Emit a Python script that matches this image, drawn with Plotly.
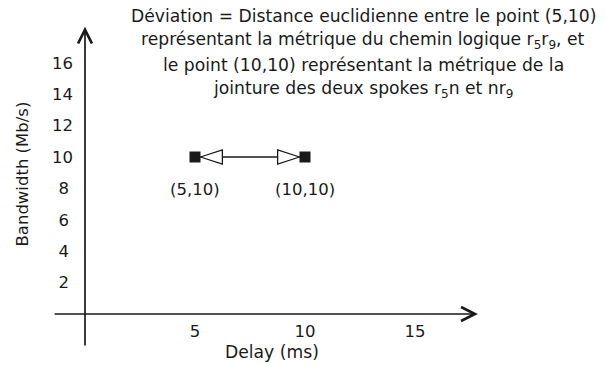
import plotly.graph_objects as go

# ---- data ----
delay = [5, 10]            # ms
bandwidth = [10, 10]       # Mb/s
x_ticks = [5, 10, 15]
y_ticks = [2, 4, 6, 8, 10, 12, 14, 16]
x_title = "Delay (ms)"
y_title = "Bandwidth (Mb/s)"
title_lines = [
    "Déviation = Distance euclidienne entre le point (5,10)",
    "représentant la métrique du chemin logique r<sub>5</sub>r<sub>9</sub>, et",
    "le point (10,10) représentant la métrique de la",
    "jointure des deux spokes r<sub>5</sub>n et nr<sub>9</sub>",
]

# ---- layout constants ----
PAGE_OFF = 8                     # default body margin of the html page
W, H = 606 - PAGE_OFF, 365 - PAGE_OFF
X0_PX, Y0_PX = 85 - PAGE_OFF, 314 - PAGE_OFF   # origin, in figure pixels
PX_PER_X, PX_PER_Y = 22.0, 15.7
x_range = [-X0_PX / PX_PER_X, (W - X0_PX) / PX_PER_X]
y_range = [-(H - Y0_PX) / PX_PER_Y, Y0_PX / PX_PER_Y]
x_axis_extent = [-1.45, 17.86]
y_axis_extent = [-2.1, 18.3]


def px(sx):
    return (sx - PAGE_OFF) / W


def py(sy):
    return 1 - (sy - PAGE_OFF) / H


FONT = "DejaVu Sans"
FS = 16.5
FS_TEXT = 17.2
INK = "#1a1a1a"

fig = go.Figure()

# connecting line
fig.add_trace(go.Scatter(x=delay, y=bandwidth, mode="lines",
                         line=dict(color=INK, width=1.3), hoverinfo="skip"))
# end squares
fig.add_trace(go.Scatter(x=delay, y=bandwidth, mode="markers",
                         marker=dict(symbol="square", size=11, color=INK), hoverinfo="skip"))
# open arrowheads pointing outward to the squares
fig.add_trace(go.Scatter(x=delay, y=bandwidth, mode="markers",
                         marker=dict(symbol="arrow", size=23, color="white",
                                     angle=[-90, 90], standoff=5.5,
                                     line=dict(color=INK, width=1.3)),
                         hoverinfo="skip"))

annotations = []
# point labels
for xv, yv in zip(delay, bandwidth):
    annotations.append(dict(x=xv, y=yv, xref="x", yref="y", text=f"({xv},{yv})",
                            showarrow=False, yshift=-32, xanchor="center", yanchor="middle",
                            font=dict(family=FONT, size=FS, color=INK)))
# axis arrows
annotations.append(dict(x=x_axis_extent[1], y=0, ax=x_axis_extent[0], ay=0,
                        xref="x", yref="y", axref="x", ayref="y", text="",
                        showarrow=True, arrowhead=5, arrowsize=1.6, arrowwidth=1.7,
                        arrowcolor=INK))
annotations.append(dict(x=0, y=y_axis_extent[1], ax=0, ay=y_axis_extent[0],
                        xref="x", yref="y", axref="x", ayref="y", text="",
                        showarrow=True, arrowhead=5, arrowsize=1.6, arrowwidth=1.7,
                        arrowcolor=INK))
# axis titles
annotations.append(dict(x=px(272), y=py(352), xref="paper", yref="paper",
                        text=x_title, showarrow=False, xanchor="center", yanchor="middle",
                        font=dict(family=FONT, size=FS_TEXT, color=INK)))
annotations.append(dict(x=px(22), y=py(174.5), xref="paper", yref="paper",
                        text=y_title, showarrow=False, textangle=-90,
                        xanchor="center", yanchor="middle",
                        font=dict(family=FONT, size=FS, color=INK)))
# explanatory text
for i, line in enumerate(title_lines):
    cy = 16 + i * 24.5
    annotations.append(dict(x=px(363), y=py(cy), xref="paper", yref="paper",
                            text=line, showarrow=False, xanchor="center", yanchor="middle",
                            font=dict(family=FONT, size=FS_TEXT, color=INK)))

y_ticktext = [f"{v}\u2005" if v < 10 else str(v) for v in y_ticks]

fig.update_layout(
    width=W, height=H,
    margin=dict(l=0, r=0, t=0, b=0),
    paper_bgcolor="white", plot_bgcolor="white",
    showlegend=False,
    annotations=annotations,
    xaxis=dict(range=x_range, anchor="free", position=(H - Y0_PX) / H,
               tickvals=x_ticks, ticks="", showline=False, showgrid=False,
               zeroline=False, ticklabelstandoff=5,
               tickfont=dict(family=FONT, size=FS, color=INK)),
    yaxis=dict(range=y_range, anchor="free", position=X0_PX / W,
               tickvals=y_ticks, ticktext=y_ticktext, ticks="", showline=False,
               showgrid=False, zeroline=False, ticklabelstandoff=12,
               tickfont=dict(family=FONT, size=FS, color=INK)),
)

fig.write_html("out.html")
